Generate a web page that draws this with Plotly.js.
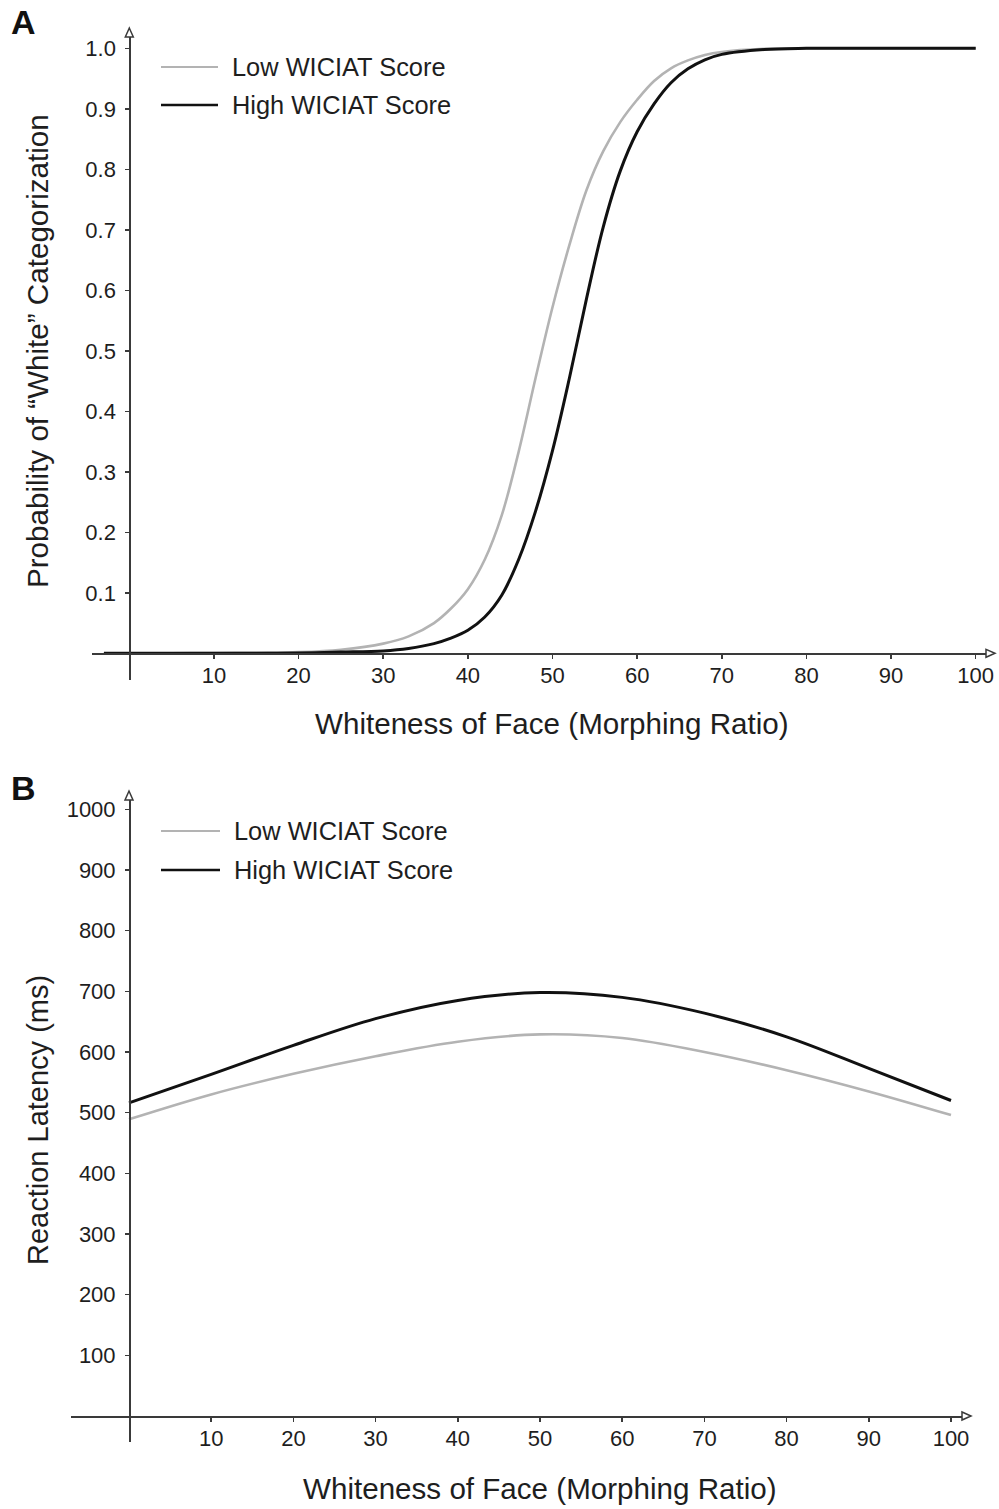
<!DOCTYPE html>
<html><head><meta charset="utf-8">
<script src="https://cdn.plot.ly/plotly-3.0.1.min.js"></script>
<style>html,body{margin:0;padding:0;background:#fff}</style>
</head><body><div id="chart" style="width:999px;height:1509px"></div>
<script>
// ---------- data ----------
const seriesNames = ['Low WICIAT Score', 'High WICIAT Score'];
const xA = [-3, 0, 5, 10, 15, 20, 25, 30, 33, 36, 38, 40, 42, 44, 46, 48, 50, 52, 54, 56, 58, 60, 62, 64, 66, 68, 70, 75, 80, 90, 100];
const probLow = [0, 0, 0, 0.0005, 0.001, 0.002, 0.006, 0.016, 0.028, 0.05, 0.074, 0.106, 0.155, 0.228, 0.333, 0.455, 0.572, 0.675, 0.765, 0.83, 0.878, 0.915, 0.946, 0.967, 0.98, 0.989, 0.994, 0.999, 1, 1, 1];
const probHigh = [0, 0, 0, 0, 0, 0.0005, 0.002, 0.004, 0.008, 0.016, 0.025, 0.038, 0.06, 0.096, 0.155, 0.235, 0.335, 0.455, 0.585, 0.705, 0.797, 0.862, 0.908, 0.943, 0.966, 0.981, 0.99, 0.998, 1, 1, 1];
const xB = [0, 10, 20, 30, 40, 50, 60, 70, 80, 90, 100];
const latLow = [489, 530, 564, 593, 617, 629, 623, 600, 570, 535, 496];
const latHigh = [516, 563, 611, 655, 685, 698, 690, 664, 625, 573, 520];
const xTicks = [10, 20, 30, 40, 50, 60, 70, 80, 90, 100];
const yTicksA = [0.1, 0.2, 0.3, 0.4, 0.5, 0.6, 0.7, 0.8, 0.9, 1.0];
const yTicksB = [100, 200, 300, 400, 500, 600, 700, 800, 900, 1000];
const xTitle = 'Whiteness of Face (Morphing Ratio)';
const yTitleA = 'Probability of \u201cWhite\u201d Categorization';
const yTitleB = 'Reaction Latency (ms)';
const panelLetters = ['A', 'B'];

// ---------- styling / geometry ----------
const W = 999, H = 1509;
const px = v => v / W;
const py = v => 1 - v / H;
const colors = ['#b3b3b3', '#111111'];
const widths = [2.6, 3];
const FONT = 'Liberation Sans, Arial, Helvetica, sans-serif';
const TXT = '#1e1e1e';
const AX = '#3a3a3a';

// panel geometry in pixels (scale = pixels per data unit)
const P = {
  A: {left: 92, right: 986, top: 37, bottom: 680, x0px: 129.3, xscale: 8.464, y0px: 653.3, yscale: 605},
  B: {left: 71, right: 962, top: 800, bottom: 1442, x0px: 129, xscale: 8.22, y0px: 1416, yscale: 0.6067}
};
function rangesOf(p) {
  return {
    xr: [(p.left - p.x0px) / p.xscale, (p.right - p.x0px) / p.xscale],
    yr: [(p.y0px - p.bottom) / p.yscale, (p.y0px - p.top) / p.yscale]
  };
}
const rA = rangesOf(P.A), rB = rangesOf(P.B);

const traces = [
  {x: xA, y: probLow, xaxis: 'x', yaxis: 'y', name: seriesNames[0]},
  {x: xA, y: probHigh, xaxis: 'x', yaxis: 'y', name: seriesNames[1]},
  {x: xB, y: latLow, xaxis: 'x2', yaxis: 'y2', name: seriesNames[0]},
  {x: xB, y: latHigh, xaxis: 'x2', yaxis: 'y2', name: seriesNames[1]}
].map((t, i) => Object.assign(t, {
  type: 'scatter', mode: 'lines', showlegend: false, hoverinfo: 'skip',
  line: {color: colors[i % 2], width: widths[i % 2], shape: 'spline', smoothing: 1},
  cliponaxis: false
}));

const tickFont = {family: FONT, size: 22, color: TXT};
function xaxisFor(p, r) {
  return {
    domain: [px(p.left), px(p.right)], range: r.xr, anchor: 'free',
    position: py(p.y0px), showgrid: false, zeroline: false,
    showline: true, linecolor: AX, linewidth: 1.6,
    ticks: 'outside', ticklen: 4, tickwidth: 1.5, tickcolor: AX,
    tickvals: xTicks, ticktext: xTicks.map(String), ticklabelstandoff: -2,
    tickfont: tickFont, fixedrange: true
  };
}
function yaxisFor(p, r, ticks, fmt) {
  return {
    domain: [py(p.bottom), py(p.top)], range: r.yr, anchor: 'free',
    position: px(p.x0px), showgrid: false, zeroline: false,
    showline: true, linecolor: AX, linewidth: 1.6,
    ticks: 'outside', ticklen: 4, tickwidth: 1.5, tickcolor: AX,
    tickvals: ticks, ticktext: ticks.map(fmt), ticklabelstandoff: 5,
    tickfont: tickFont, fixedrange: true
  };
}

const shapes = [];
const annotations = [];
// axis arrowheads (open triangles)
function arrows(p) {
  shapes.push({type: 'path', xref: 'paper', yref: 'paper', xsizemode: 'pixel', ysizemode: 'pixel',
    xanchor: px(p.x0px), yanchor: py(p.top), path: 'M-4,0 L4,0 L0,9 Z',
    line: {color: AX, width: 1.5}, fillcolor: '#ffffff'});
  shapes.push({type: 'path', xref: 'paper', yref: 'paper', xsizemode: 'pixel', ysizemode: 'pixel',
    xanchor: px(p.right), yanchor: py(p.y0px), path: 'M0,-4 L0,4 L9,0 Z',
    line: {color: AX, width: 1.5}, fillcolor: '#ffffff'});
}
arrows(P.A); arrows(P.B);

// manual legends
const legends = [
  {lineX0: 161, lineX1: 218, textX: 230, rows: [67, 105]},
  {lineX0: 161, lineX1: 220, textX: 232, rows: [831, 870]}
];
legends.forEach(lg => {
  seriesNames.forEach((nm, i) => {
    shapes.push({type: 'line', xref: 'paper', yref: 'paper',
      x0: px(lg.lineX0), x1: px(lg.lineX1), y0: py(lg.rows[i]), y1: py(lg.rows[i]),
      line: {color: colors[i], width: widths[i] - 0.4}});
    annotations.push({xref: 'paper', yref: 'paper', x: px(lg.textX), y: py(lg.rows[i]),
      xanchor: 'left', yanchor: 'middle', showarrow: false, text: nm,
      font: {family: FONT, size: 25.4, color: TXT}});
  });
});

// titles
const titleFont = {family: FONT, size: 29.6, color: TXT};
annotations.push({xref: 'paper', yref: 'paper', x: px(551.5), y: py(723), xanchor: 'center', yanchor: 'middle',
  showarrow: false, text: xTitle, font: titleFont});
annotations.push({xref: 'paper', yref: 'paper', x: px(539.5), y: py(1488), xanchor: 'center', yanchor: 'middle',
  showarrow: false, text: xTitle, font: titleFont});
annotations.push({xref: 'paper', yref: 'paper', x: px(38), y: py(351), xanchor: 'center', yanchor: 'middle',
  showarrow: false, text: yTitleA, textangle: -90, font: titleFont});
annotations.push({xref: 'paper', yref: 'paper', x: px(38), y: py(1120), xanchor: 'center', yanchor: 'middle',
  showarrow: false, text: yTitleB, textangle: -90, font: Object.assign({}, titleFont, {size: 29})});
// panel letters
[[23, 22], [23, 788]].forEach((pos, i) => {
  annotations.push({xref: 'paper', yref: 'paper', x: px(pos[0]), y: py(pos[1]), xanchor: 'center', yanchor: 'middle',
    showarrow: false, text: '<b>' + panelLetters[i] + '</b>', font: {family: FONT, size: 34, color: '#111'}});
});

const layout = {
  width: W, height: H, margin: {l: 0, r: 0, t: 0, b: 0},
  paper_bgcolor: '#ffffff', plot_bgcolor: 'rgba(0,0,0,0)',
  showlegend: false,
  xaxis: xaxisFor(P.A, rA),
  yaxis: yaxisFor(P.A, rA, yTicksA, v => v.toFixed(1)),
  xaxis2: xaxisFor(P.B, rB),
  yaxis2: yaxisFor(P.B, rB, yTicksB, v => String(v)),
  shapes: shapes, annotations: annotations
};

Plotly.newPlot('chart', traces, layout, {staticPlot: true, displayModeBar: false});
</script></body></html>
